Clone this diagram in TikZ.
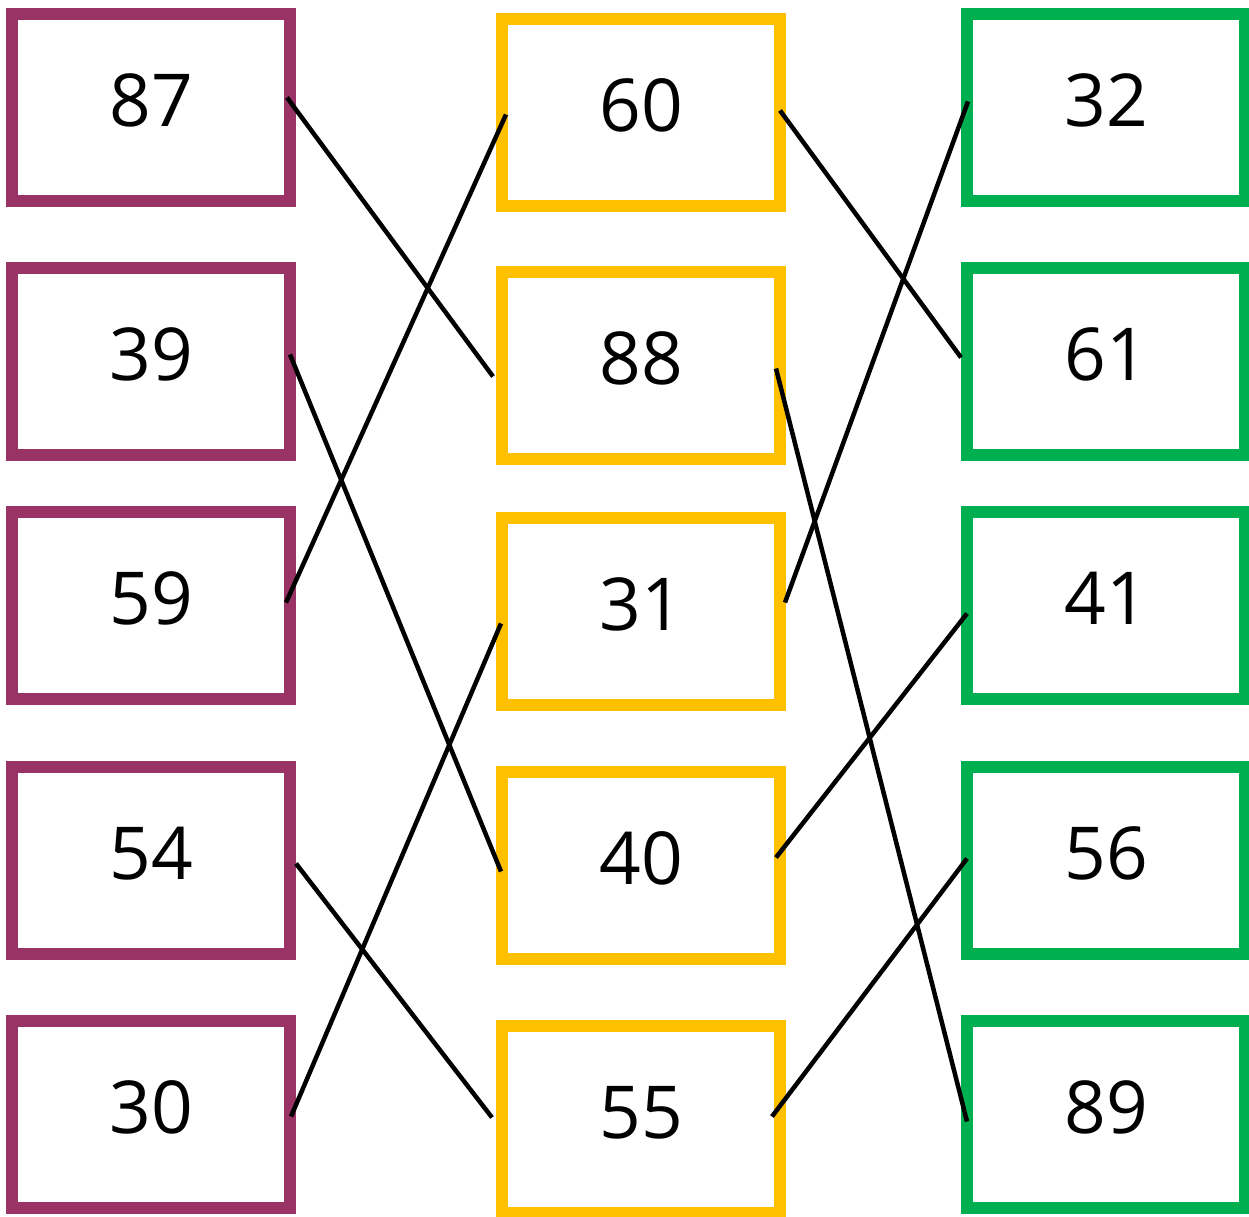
\documentclass[tikz,border=0pt]{standalone}
\usepackage{fontspec}
\setmainfont{Open Sans}
\usepackage{xcolor}
\usetikzlibrary{positioning}
\definecolor{numPurple}{RGB}{153,51,102}
\definecolor{numYellow}{RGB}{255,192,0}
\definecolor{numGreen}{RGB}{0,176,80}
\begin{document}
\begin{tikzpicture}[x=1pt, y=-1pt, node distance=55pt, font=\fontsize{73}{80}\selectfont]
\tikzstyle{numbox}=[draw, line width=12pt, minimum width=278pt, minimum height=187pt, inner sep=0pt, text depth=14pt]
\tikzstyle{lbox}=[numbox, draw=numPurple]
\tikzstyle{mbox}=[numbox, draw=numYellow]
\tikzstyle{rbox}=[numbox, draw=numGreen]
\tikzstyle{link}=[draw=black, line width=4.5pt]

\useasboundingbox (0,0) rectangle (1249,1216);

\node[lbox] (l87) at (151,107.5) {87};
\node[lbox, below=of l87] (l39) {39};
\node[lbox, below=45pt of l39] (l59) {59};
\node[lbox, below=56pt of l59] (l54) {54};
\node[lbox, below=of l54] (l30) {30};

\node[mbox, right=200pt of l87, yshift=-5pt] (m60) {60};
\node[mbox, below=54pt of m60] (m88) {88};
\node[mbox, below=47pt of m88] (m31) {31};
\node[mbox, below=of m31] (m40) {40};
\node[mbox, below=of m40] (m55) {55};

\node[rbox, right=175pt of m60, yshift=5pt] (r32) {32};
\node[rbox, below=of r32] (r61) {61};
\node[rbox, below=45pt of r61] (r41) {41};
\node[rbox, below=56pt of r41] (r56) {56};
\node[rbox, below=of r56] (r89) {89};

\draw[link] ([xshift=-9pt, yshift=10pt]l87.east) -- ([xshift=-3pt, yshift=-11pt]m88.west);
\draw[link] ([xshift=-6pt, yshift=7pt]l39.east) -- ([xshift=5pt, yshift=-6pt]m40.west);
\draw[link] ([xshift=-10pt, yshift=3pt]l59.east) -- ([xshift=10pt, yshift=-2pt]m60.west);
\draw[link] ([yshift=-3pt]l54.east) -- ([xshift=-4pt, yshift=2pt]m55.west);
\draw[link] ([xshift=-5pt, yshift=-2pt]l30.east) -- ([xshift=5pt, yshift=-12pt]m31.west);
\draw[link] ([xshift=-6pt, yshift=2pt]m60.east) -- ([yshift=4pt]r61.west);
\draw[link] ([xshift=-10pt, yshift=-3pt]m88.east) -- ([xshift=6pt, yshift=-7pt]r89.west);
\draw[link] ([xshift=-1pt, yshift=9pt]m31.east) -- ([xshift=7pt, yshift=6pt]r32.west);
\draw[link] ([xshift=-10pt, yshift=8pt]m40.east) -- ([xshift=6pt, yshift=-8pt]r41.west);
\draw[link] ([xshift=-14pt, yshift=3pt]m55.east) -- ([xshift=6pt, yshift=2pt]r56.west);
\end{tikzpicture}
\end{document}
